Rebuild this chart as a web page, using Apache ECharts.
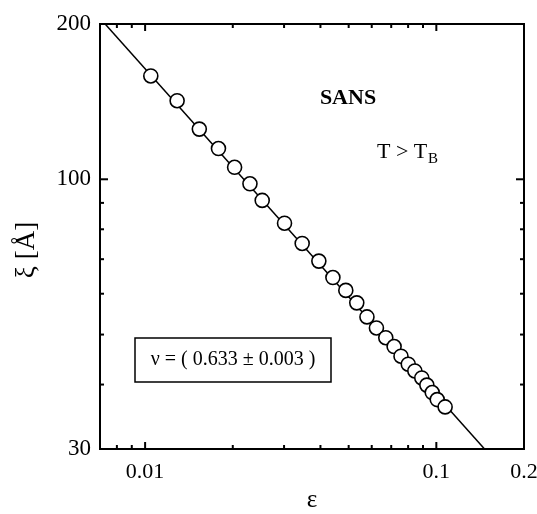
<!DOCTYPE html>
<html>
<head>
<meta charset="utf-8">
<style>
  html, body { margin: 0; padding: 0; background: #fff; }
  #chart { width: 537px; height: 514px; }
</style>
<script src="https://cdn.jsdelivr.net/npm/echarts@6/dist/echarts.min.js"></script>
</head>
<body>
<div id="chart"></div>
<script>
// Reduced temperature epsilon and correlation length xi (Angstrom), SANS, T > T_B
const epsilon = [0.01046, 0.01288, 0.01535, 0.01786, 0.02029, 0.02291, 0.02524, 0.03011,
  0.03462, 0.03950, 0.04414, 0.04888, 0.05331, 0.05778, 0.06227, 0.06705, 0.07161,
  0.07562, 0.08010, 0.08437, 0.08913, 0.09278, 0.09680, 0.1007, 0.1072];
const xi = [158.6, 142.0, 125.1, 114.7, 105.5, 98.0, 91.0, 82.2,
  75.1, 69.4, 64.5, 60.9, 57.6, 54.1, 51.5, 49.3, 47.4,
  45.4, 43.8, 42.5, 41.2, 39.9, 38.6, 37.4, 36.2];

// Power-law fit, xi ~ eps^(-nu), drawn between its two ends
const fitEps = [0.00729, 0.1464];
const fitXi = [200, 30];

// Axis ranges and labels
const X_MIN = 0.007, X_MAX = 0.2;
const Y_MIN = 30, Y_MAX = 200;
const xLabels = [0.01, 0.1, 0.2];
const yLabels = [30, 100, 200];

// Tick marks drawn inside the frame on all four sides
const xMajorTicks = [0.01, 0.1];
const xMinorTicks = [0.008, 0.009, 0.02, 0.03, 0.04, 0.05, 0.06, 0.07, 0.08, 0.09];
const yMajorTicks = [100];
const yMinorTicks = [40, 50, 60, 70, 80, 90];

const SERIF = '"Liberation Serif", "Times New Roman", serif';

function tickSeries(values, dim, len) {
  return {
    type: 'custom',
    silent: true,
    clip: false,
    z: 5,
    data: values.map(v => dim === 'x' ? [v, Y_MIN] : [X_MIN, v]),
    renderItem(params, api) {
      const cs = params.coordSys;
      const p = api.coord([api.value(0), api.value(1)]);
      const st = { stroke: '#000', lineWidth: 2 };
      if (dim === 'x') {
        const top = cs.y, bot = cs.y + cs.height;
        return { type: 'group', children: [
          { type: 'line', shape: { x1: p[0], y1: bot, x2: p[0], y2: bot - len }, style: st },
          { type: 'line', shape: { x1: p[0], y1: top, x2: p[0], y2: top + len }, style: st }
        ]};
      }
      const left = cs.x, right = cs.x + cs.width;
      return { type: 'group', children: [
        { type: 'line', shape: { x1: left, y1: p[1], x2: left + len, y2: p[1] }, style: st },
        { type: 'line', shape: { x1: right, y1: p[1], x2: right - len, y2: p[1] }, style: st }
      ]};
    }
  };
}

const chart = echarts.init(document.getElementById('chart'), null, { renderer: 'canvas' });

chart.setOption({
  animation: false,
  backgroundColor: '#fff',
  grid: {
    left: 100, right: 13, top: 24, bottom: 65,
    containLabel: false, outerBoundsMode: 'none',
    show: true, borderColor: '#000', borderWidth: 2, backgroundColor: 'transparent'
  },
  xAxis: {
    type: 'log', logBase: 10, min: X_MIN, max: X_MAX,
    axisLine: { show: false }, axisTick: { show: false }, splitLine: { show: false },
    axisLabel: {
      customValues: xLabels, margin: 12, color: '#000',
      fontFamily: SERIF, fontSize: 22,
      formatter: v => String(+(+v).toPrecision(3))
    },
    name: 'ε', nameLocation: 'middle', nameGap: 38,
    nameTextStyle: { fontFamily: SERIF, fontSize: 25, color: '#000' }
  },
  yAxis: {
    type: 'log', logBase: 10, min: Y_MIN, max: Y_MAX,
    axisLine: { show: false }, axisTick: { show: false }, splitLine: { show: false },
    axisLabel: {
      customValues: yLabels, margin: 9, color: '#000',
      fontFamily: SERIF, fontSize: 23,
      formatter: v => String(Math.round(v))
    }
  },
  graphic: [
    {
      type: 'text', x: 27, y: 250, rotation: Math.PI / 2,
      style: { text: 'ξ [Å]', fontFamily: SERIF, fontSize: 27, fill: '#000', align: 'center', verticalAlign: 'middle' }
    },
    {
      type: 'text', x: 348, y: 98,
      style: { text: 'SANS', fontFamily: SERIF, fontSize: 22, fontWeight: 'bold', fill: '#000', align: 'center', verticalAlign: 'middle' }
    },
    {
      type: 'text', x: 377, y: 152,
      style: { text: 'T > T', fontFamily: SERIF, fontSize: 22, fill: '#000', align: 'left', verticalAlign: 'middle' }
    },
    {
      type: 'text', x: 428, y: 159,
      style: { text: 'B', fontFamily: SERIF, fontSize: 15, fill: '#000', align: 'left', verticalAlign: 'middle' }
    },
    {
      type: 'rect', shape: { x: 135, y: 338, width: 196, height: 44 },
      style: { fill: '#fff', stroke: '#000', lineWidth: 1.5 }
    },
    {
      type: 'text', x: 233, y: 360,
      style: { text: 'ν = ( 0.633 ± 0.003 )', fontFamily: SERIF, fontSize: 20, fill: '#000', align: 'center', verticalAlign: 'middle' }
    }
  ],
  series: [
    {
      type: 'line', data: fitEps.map((e, i) => [e, fitXi[i]]),
      showSymbol: false, silent: true, z: 2,
      lineStyle: { color: '#000', width: 1.5 }
    },
    {
      type: 'scatter', data: epsilon.map((e, i) => [e, xi[i]]),
      symbol: 'circle', symbolSize: 14, z: 3,
      itemStyle: { color: '#fff', borderColor: '#000', borderWidth: 1.6, opacity: 1 }
    },
    tickSeries(xMajorTicks, 'x', 7),
    tickSeries(xMinorTicks, 'x', 4),
    tickSeries(yMajorTicks, 'y', 8),
    tickSeries(yMinorTicks, 'y', 4)
  ]
});
</script>
</body>
</html>
